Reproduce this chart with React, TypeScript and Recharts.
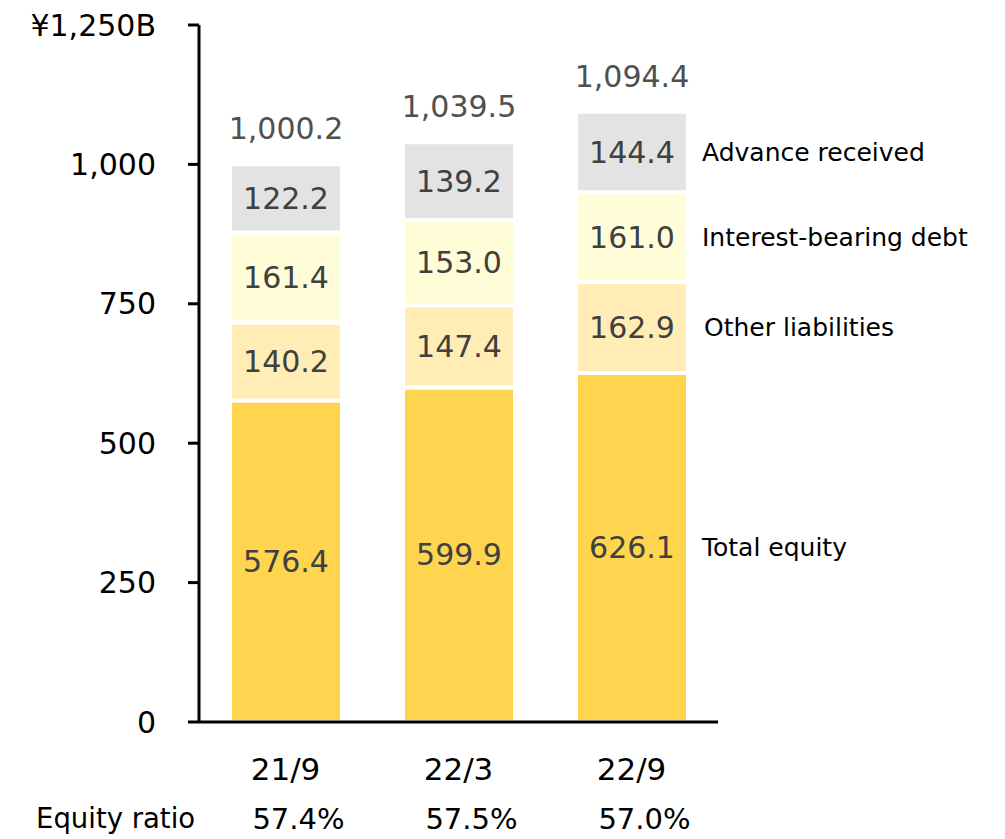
import React from 'react';
import { BarChart, Bar, XAxis, YAxis, LabelList } from 'recharts';

const categories = ['21/9', '22/3', '22/9'];
const totalEquity = [576.4, 599.9, 626.1];
const otherLiabilities = [140.2, 147.4, 162.9];
const interestBearingDebt = [161.4, 153.0, 161.0];
const advanceReceived = [122.2, 139.2, 144.4];
const totals = [1000.2, 1039.5, 1094.4];
const equityRatios = ['57.4%', '57.5%', '57.0%'];
const seriesNames = ['Total equity', 'Other liabilities', 'Interest-bearing debt', 'Advance received'];
const yTicks = [0, 250, 500, 750, 1000, 1250];
const ratioTitle = 'Equity ratio';

const last = categories.length - 1;
const data = categories.map((c, i) => ({
  name: c,
  equity: totalEquity[i],
  other: otherLiabilities[i],
  interest: interestBearingDebt[i],
  advance: advanceReceived[i],
  total: totals[i],
  ratio: equityRatios[i],
  equityName: i === last ? seriesNames[0] : undefined,
  otherName: i === last ? seriesNames[1] : undefined,
  interestName: i === last ? seriesNames[2] : undefined,
  advanceName: i === last ? seriesNames[3] : undefined,
}));

const FONT = '"DejaVu Sans", Verdana, sans-serif';
const fmt = (v: number) => v.toFixed(1);
const fmtTotal = (v: number) => v.toLocaleString('en-US', { minimumFractionDigits: 1, maximumFractionDigits: 1 });
const fmtY = (v: number) => (v === 1250 ? '¥1,250B' : v.toLocaleString('en-US'));

const XTick = (props: any) => {
  const { x, y, payload } = props;
  const idx = categories.indexOf(payload.value);
  return (
    <g>
      <text x={x} y={y + 47} textAnchor="middle" dominantBaseline="central" fontSize={31} fontFamily={FONT} fill="#000">
        {payload.value}
      </text>
      <text x={x + 13} y={y + 97} textAnchor="middle" dominantBaseline="central" fontSize={29} fontFamily={FONT} fill="#000">
        {equityRatios[idx]}
      </text>
      {idx === 0 ? (
        <text x={36} y={y + 96} textAnchor="start" dominantBaseline="central" fontSize={27.5} fontFamily={FONT} fill="#000">
          {ratioTitle}
        </text>
      ) : null}
    </g>
  );
};

const valueLabel = { fontSize: 30, fontFamily: FONT, fill: '#404040' };
const nameLabel = { fontSize: 25, fontFamily: FONT, fill: '#000' };

export default function App() {
  return (
    <div style={{ position: 'absolute', left: 0, top: 0, width: 1005, height: 839, background: '#fff' }}>
      <BarChart
        width={1005}
        height={839}
        data={data}
        margin={{ top: 25, right: 287, bottom: 0, left: 0 }}
        barSize={112}
      >
        <XAxis
          dataKey="name"
          height={117}
          axisLine={{ stroke: '#000', strokeWidth: 3 }}
          tickLine={false}
          tickSize={0}
          tickMargin={0}
          tick={<XTick />}
          interval={0}
        />
        <YAxis
          width={199}
          domain={[0, 1250]}
          ticks={yTicks}
          tickFormatter={fmtY}
          axisLine={{ stroke: '#000', strokeWidth: 3 }}
          tickLine={{ stroke: '#000', strokeWidth: 3 }}
          tickSize={11}
          tickMargin={32}
          tick={{ fontSize: 30, fontFamily: FONT, fill: '#000' }}
          interval={0}
        />
        <Bar dataKey="equity" stackId="a" fill="#FFD54F" stroke="#fff" strokeWidth={4} isAnimationActive={false}>
          <LabelList dataKey="equity" position="center" formatter={fmt} {...valueLabel} />
          <LabelList dataKey="equityName" position="right" offset={14} {...nameLabel} />
        </Bar>
        <Bar dataKey="other" stackId="a" fill="#FFEDB5" stroke="#fff" strokeWidth={4} isAnimationActive={false}>
          <LabelList dataKey="other" position="center" formatter={fmt} {...valueLabel} />
          <LabelList dataKey="otherName" position="right" offset={16} {...nameLabel} />
        </Bar>
        <Bar dataKey="interest" stackId="a" fill="#FFFDD8" stroke="#fff" strokeWidth={4} isAnimationActive={false}>
          <LabelList dataKey="interest" position="center" formatter={fmt} {...valueLabel} />
          <LabelList dataKey="interestName" position="right" offset={14} {...nameLabel} />
        </Bar>
        <Bar dataKey="advance" stackId="a" fill="#E3E3E3" stroke="#fff" strokeWidth={4} isAnimationActive={false}>
          <LabelList dataKey="advance" position="center" formatter={fmt} {...valueLabel} />
          <LabelList dataKey="advanceName" position="right" offset={14} {...nameLabel} />
          <LabelList dataKey="total" position="top" offset={25} formatter={fmtTotal} {...valueLabel} fill="#505050" />
        </Bar>
      </BarChart>
    </div>
  );
}
